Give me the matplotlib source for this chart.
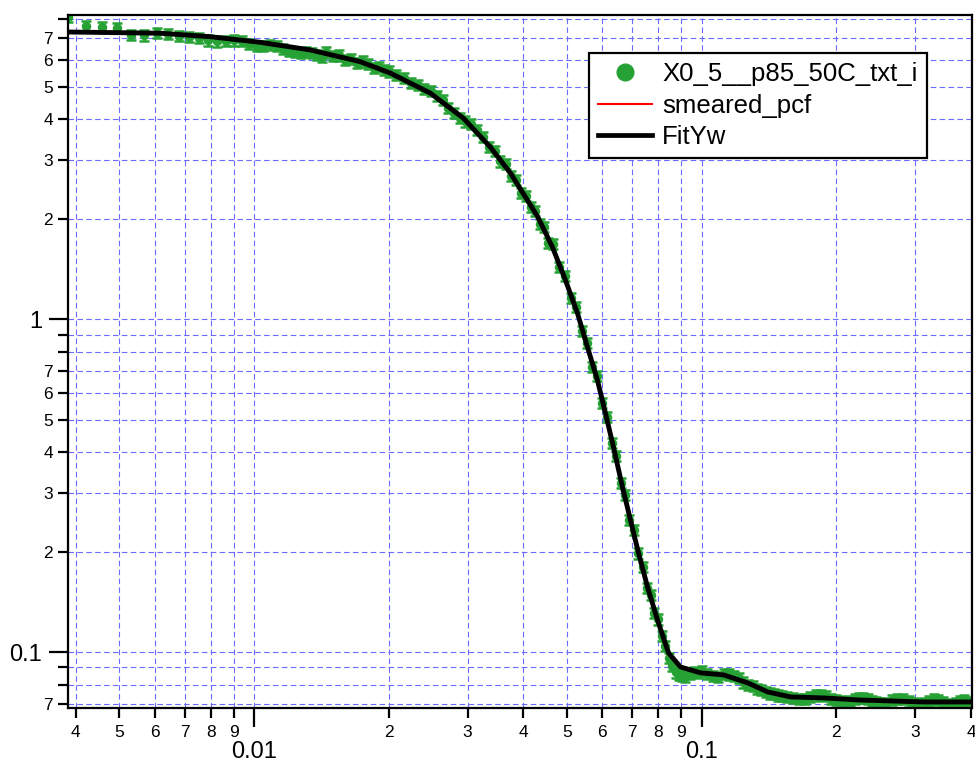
import matplotlib
matplotlib.use('Agg')
import matplotlib.pyplot as plt
from matplotlib.ticker import FixedLocator, FixedFormatter
from matplotlib.lines import Line2D

plt.rcParams['font.family'] = ['Liberation Sans', 'DejaVu Sans']

# ---------------- data ----------------
q_data = [0.00384, 0.00421, 0.00458, 0.00495, 0.00532, 0.00569, 0.00606, 0.00643, 0.00680, 0.00717,
          0.00754, 0.00791, 0.00828, 0.00865, 0.00902, 0.00939, 0.00976, 0.01013, 0.0105, 0.01087,
          0.01124, 0.01161, 0.01198, 0.01235, 0.01272, 0.01309, 0.01346, 0.01383, 0.0142,
          0.0145, 0.015, 0.0155, 0.016, 0.0165, 0.017, 0.0175, 0.018, 0.0185, 0.019, 0.0195, 0.020,
          0.0208, 0.0216, 0.0224, 0.0232, 0.0240, 0.0248, 0.0256, 0.0264, 0.0272, 0.0280, 0.0288, 0.0296,
          0.0305, 0.0315, 0.0325, 0.0335, 0.0345, 0.0355, 0.0365, 0.0375, 0.0385, 0.0395, 0.0405,
          0.0415, 0.0425, 0.0435, 0.0445, 0.0455, 0.0465, 0.048, 0.0495, 0.051, 0.0525, 0.054,
          0.0555, 0.057, 0.0585, 0.060, 0.0615, 0.063, 0.0645, 0.066, 0.0675, 0.069, 0.0705,
          0.072, 0.074, 0.0755, 0.077, 0.0785, 0.080, 0.0815, 0.083, 0.0845, 0.086, 0.0875, 0.089,
          0.0905, 0.092, 0.094, 0.096, 0.098, 0.100, 0.103, 0.106, 0.109, 0.112, 0.115, 0.118,
          0.121, 0.124, 0.127, 0.130, 0.133, 0.136, 0.139, 0.142, 0.145, 0.148, 0.151, 0.155,
          0.160, 0.165, 0.170, 0.175, 0.180, 0.185, 0.190, 0.195, 0.200, 0.205, 0.210, 0.215,
          0.220, 0.225, 0.230, 0.235, 0.240, 0.245, 0.250, 0.258, 0.266, 0.274, 0.282, 0.290,
          0.298, 0.306, 0.314, 0.322, 0.330, 0.338, 0.346, 0.354, 0.362, 0.370, 0.378, 0.386,
          0.394, 0.402]
i_data = [8.10, 7.62, 7.55, 7.52, 7.15, 7.12, 7.25, 7.20, 7.10, 7.05,
          7.00, 6.88, 6.83, 6.85, 6.88, 6.85, 6.72, 6.62, 6.62, 6.68,
          6.62, 6.50, 6.40, 6.35, 6.30, 6.35, 6.30, 6.22, 6.12,
          6.33, 6.18, 6.20, 6.02, 6.06, 5.90, 5.95, 5.84, 5.70, 5.71, 5.60, 5.55,
          5.42, 5.30, 5.14, 5.06, 4.92, 4.84, 4.70, 4.57, 4.30, 4.16, 4.03, 3.93,
          3.86, 3.70, 3.52, 3.30, 3.20, 2.98, 2.92, 2.70, 2.62, 2.40, 2.35,
          2.17, 2.12, 1.93, 1.89, 1.70, 1.68, 1.44, 1.35, 1.16, 1.09, 0.92,
          0.85, 0.72, 0.675, 0.56, 0.51, 0.425, 0.388, 0.322, 0.296, 0.250, 0.233,
          0.198, 0.180, 0.156, 0.149, 0.131, 0.1255, 0.112, 0.1045, 0.096, 0.091, 0.087, 0.0855,
          0.0850, 0.0845, 0.0860, 0.0875, 0.0865, 0.0878, 0.0860, 0.0850, 0.0845, 0.0862, 0.0858, 0.0850,
          0.0835, 0.0812, 0.0800, 0.0790, 0.0778, 0.0770, 0.0760, 0.0752, 0.0748, 0.0742, 0.0738, 0.0735,
          0.0728, 0.0724, 0.0722, 0.0735, 0.0742, 0.0744, 0.0738, 0.0725, 0.0718, 0.0712, 0.0710, 0.0715,
          0.0722, 0.0728, 0.0730, 0.0725, 0.0716, 0.0708, 0.0704, 0.0706, 0.0718, 0.0726, 0.0722, 0.0712,
          0.0702, 0.0698, 0.0704, 0.0716, 0.0722, 0.0718, 0.0708, 0.0698, 0.0695, 0.0703, 0.0714, 0.0718,
          0.0708, 0.0700]
rel_err = 0.035

q_fit = [0.003837, 0.006162, 0.00797, 0.01031, 0.01335, 0.01726, 0.02015, 0.02476, 0.02935,
         0.03373, 0.03739, 0.04081, 0.04297, 0.04642, 0.04963, 0.05280, 0.05559, 0.05852,
         0.06098, 0.06355, 0.06657, 0.06937, 0.07230, 0.07573, 0.07972, 0.08437, 0.08975,
         0.0995, 0.1120, 0.1268, 0.1405, 0.1582, 0.1875, 0.2234, 0.2647, 0.3138, 0.4061]
i_fit = [7.29, 7.23, 7.06, 6.79, 6.44, 5.94, 5.49, 4.78, 4.02,
         3.29, 2.75, 2.28, 2.04, 1.649, 1.312, 1.044, 0.826, 0.657,
         0.523, 0.4136, 0.3135, 0.2496, 0.1987, 0.1571, 0.1250, 0.0995, 0.0903,
         0.0867, 0.0855, 0.0809, 0.0760, 0.0734, 0.0729, 0.0719, 0.0714, 0.0709, 0.0709]
q_smeared = q_fit
i_smeared = i_fit

legend_labels = ['X0_5__p85_50C_txt_i', 'smeared_pcf', 'FitYw']

y_major = [0.1, 1]
y_major_labels = ['0.1', '1']
y_minor = [0.07, 0.08, 0.09, 0.2, 0.3, 0.4, 0.5, 0.6, 0.7, 0.8, 0.9, 2, 3, 4, 5, 6, 7, 8]
y_minor_labels = ['7', '', '', '2', '3', '4', '5', '6', '7', '', '', '2', '3', '4', '5', '6', '7', '']
x_major = [0.01, 0.1]
x_major_labels = ['0.01', '0.1']
x_minor = [0.004, 0.005, 0.006, 0.007, 0.008, 0.009, 0.02, 0.03, 0.04, 0.05, 0.06, 0.07, 0.08,
           0.09, 0.2, 0.3, 0.4]
x_minor_labels = ['4', '5', '6', '7', '8', '9', '2', '3', '4', '5', '6', '7', '8', '9', '2', '3', '4']

# ---------------- plot ----------------
green = '#26a234'
fig = plt.figure(figsize=(9.75, 7.65), dpi=100)
ax = fig.add_axes([0.0697, 0.0745, 0.9272, 0.9059])
ax.set_xscale('log')
ax.set_yscale('log')

ax.errorbar(q_data, i_data, yerr=[v * rel_err for v in i_data], fmt='o', color=green,
            ms=5.8, mec=green, elinewidth=1.8, capsize=3.4, capthick=1.8, zorder=3)
ax.plot(q_smeared, i_smeared, color='red', lw=1.2, zorder=4)
ax.plot(q_fit, i_fit, color='black', lw=3.5, zorder=5, solid_capstyle='butt')

ax.set_xlim(0.00384, 0.402)
ax.set_ylim(0.068, 8.2)

ax.xaxis.set_major_locator(FixedLocator(x_major))
ax.xaxis.set_major_formatter(FixedFormatter(x_major_labels))
ax.xaxis.set_minor_locator(FixedLocator(x_minor))
ax.xaxis.set_minor_formatter(FixedFormatter(x_minor_labels))
ax.yaxis.set_major_locator(FixedLocator(y_major))
ax.yaxis.set_major_formatter(FixedFormatter(y_major_labels))
ax.yaxis.set_minor_locator(FixedLocator(y_minor))
ax.yaxis.set_minor_formatter(FixedFormatter(y_minor_labels))

ax.tick_params(axis='both', which='major', direction='out', length=13.7, width=1.6, labelsize=17)
ax.tick_params(axis='both', which='minor', direction='out', length=7.2, width=1.6, labelsize=12.5)
ax.tick_params(axis='y', which='major', pad=5)
ax.tick_params(axis='y', which='minor', pad=3.6)
ax.tick_params(axis='x', which='major', pad=10)
ax.tick_params(axis='x', which='minor', pad=5)

ax.grid(True, which='both', color='#6b6bff', linestyle=(0, (5, 3)), linewidth=0.8)
ax.set_axisbelow(True)

for s in ax.spines.values():
    s.set_linewidth(1.6)
    s.set_zorder(6)

handles = [Line2D([], [], marker='o', color=green, ls='none', ms=12),
           Line2D([], [], color='red', lw=1.5),
           Line2D([], [], color='black', lw=3.4)]
leg = ax.legend(handles, legend_labels, loc='upper left', bbox_to_anchor=(0.5763, 0.9452),
                borderaxespad=0, fontsize=18.5, frameon=True, fancybox=False, edgecolor='black',
                framealpha=1, handlelength=2.1, handletextpad=0.4, labelspacing=0.3,
                borderpad=0.35)
leg.get_frame().set_linewidth(1.6)
leg.set_zorder(10)

fig.savefig('out.png', dpi=100)
